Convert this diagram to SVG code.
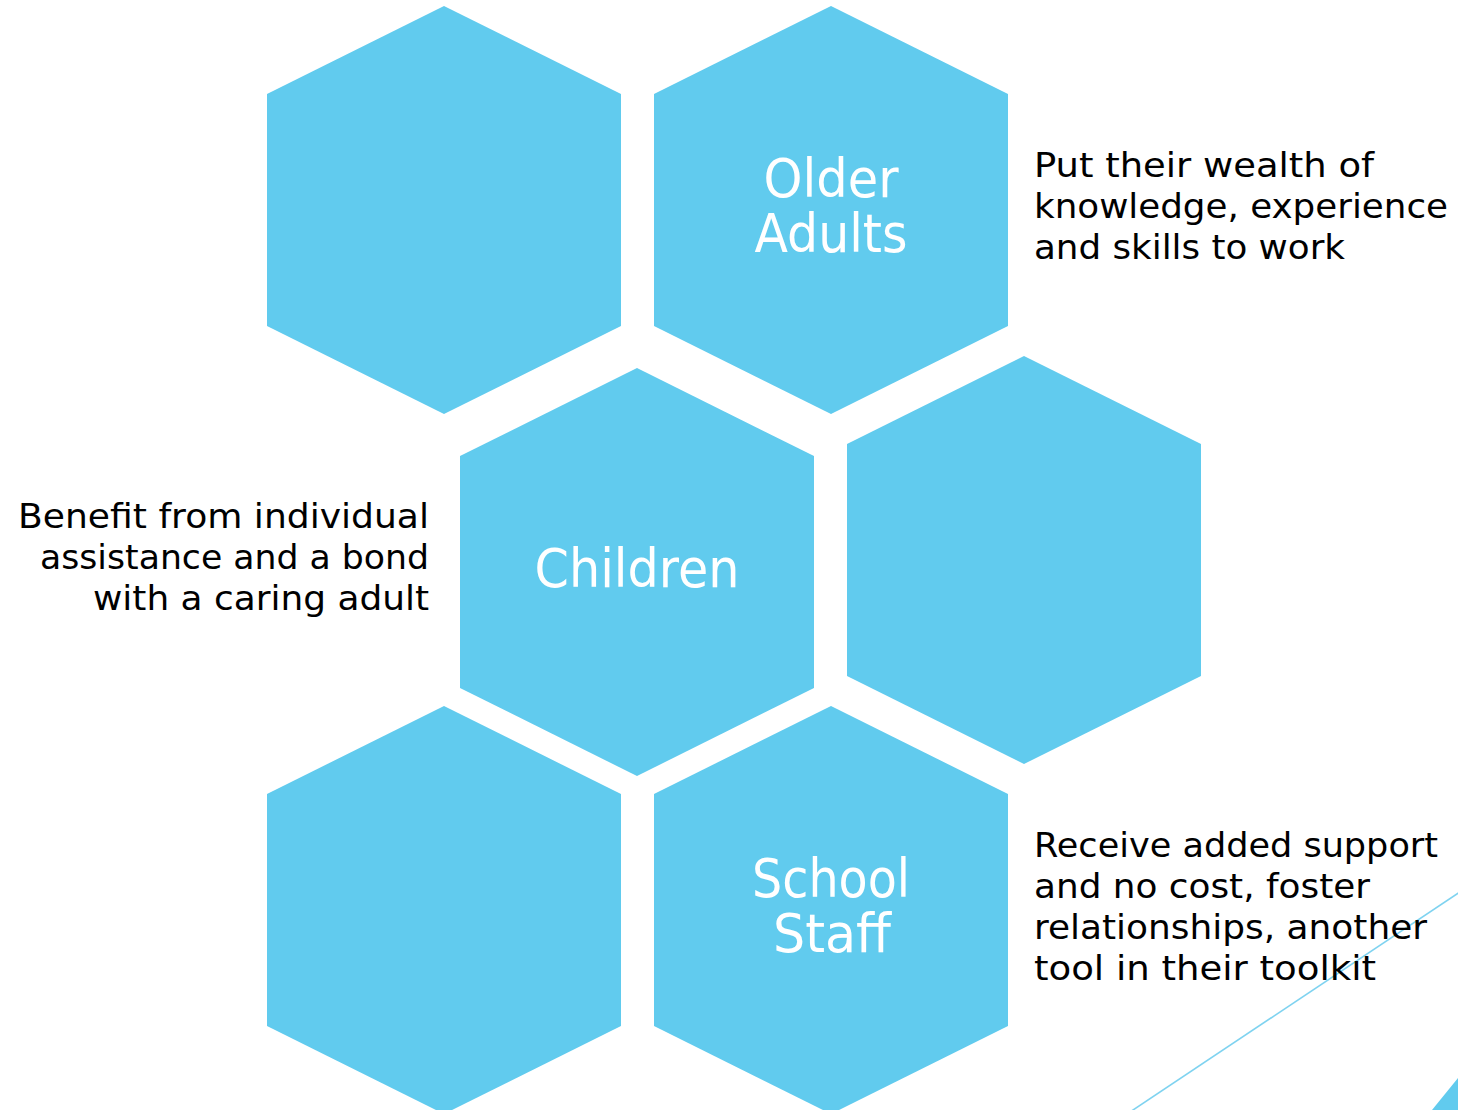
<svg xmlns="http://www.w3.org/2000/svg" width="1458" height="1110" viewBox="0 0 1458 1110">
<style>
.hex{fill:#61cbee}
.lbl{font-family:"DejaVu Sans","Verdana",sans-serif;font-size:53px;fill:#ffffff;text-anchor:middle}
.desc{font-family:"DejaVu Sans","Verdana",sans-serif;font-size:33px;fill:#000000}
</style>
<defs>
<polygon id="hx" points="0,-204 177,-116 177,116 0,204 -177,116 -177,-116"/>
</defs>
<rect width="1458" height="1110" fill="#ffffff"/>
<g id="deco">
<line x1="1130" y1="1112" x2="1460" y2="892" stroke="#7fd3f0" stroke-width="1.6"/>
<polygon points="1432,1110 1458,1078 1458,1110" fill="#61cbee"/>
</g>
<g id="connectors"></g>
<g id="hex-top-left"><use href="#hx" class="hex" x="444" y="210"/></g>
<g id="hex-older-adults"><use href="#hx" class="hex" x="831" y="210"/>
<text class="lbl" x="831" y="197" textLength="135" lengthAdjust="spacingAndGlyphs">Older</text>
<text class="lbl" x="831" y="252" textLength="153" lengthAdjust="spacingAndGlyphs">Adults</text></g>
<g id="hex-children"><use href="#hx" class="hex" x="637" y="572"/>
<text class="lbl" x="637" y="587" textLength="205" lengthAdjust="spacingAndGlyphs">Children</text></g>
<g id="hex-mid-right"><use href="#hx" class="hex" x="1024" y="560"/></g>
<g id="hex-bottom-left"><use href="#hx" class="hex" x="444" y="910"/></g>
<g id="hex-school-staff"><use href="#hx" class="hex" x="831" y="910"/>
<text class="lbl" x="831" y="897" textLength="158" lengthAdjust="spacingAndGlyphs">School</text>
<text class="lbl" x="832" y="952" textLength="118" lengthAdjust="spacingAndGlyphs">Staff</text></g>
<g id="text-older">
<text class="desc" x="1034" y="177" textLength="340" lengthAdjust="spacingAndGlyphs">Put their wealth of</text>
<text class="desc" x="1034" y="218" textLength="414" lengthAdjust="spacingAndGlyphs">knowledge, experience</text>
<text class="desc" x="1034" y="259" textLength="311" lengthAdjust="spacingAndGlyphs">and skills to work</text>
</g>
<g id="text-children">
<text class="desc" x="429" y="528" text-anchor="end" textLength="411" lengthAdjust="spacingAndGlyphs">Benefit from individual</text>
<text class="desc" x="429" y="569" text-anchor="end" textLength="389" lengthAdjust="spacingAndGlyphs">assistance and a bond</text>
<text class="desc" x="429" y="610" text-anchor="end" textLength="336" lengthAdjust="spacingAndGlyphs">with a caring adult</text>
</g>
<g id="text-staff">
<text class="desc" x="1034" y="857" textLength="404" lengthAdjust="spacingAndGlyphs">Receive added support</text>
<text class="desc" x="1034" y="898" textLength="336" lengthAdjust="spacingAndGlyphs">and no cost, foster</text>
<text class="desc" x="1034" y="939" textLength="393" lengthAdjust="spacingAndGlyphs">relationships, another</text>
<text class="desc" x="1034" y="980" textLength="342" lengthAdjust="spacingAndGlyphs">tool in their toolkit</text>
</g>
</svg>
